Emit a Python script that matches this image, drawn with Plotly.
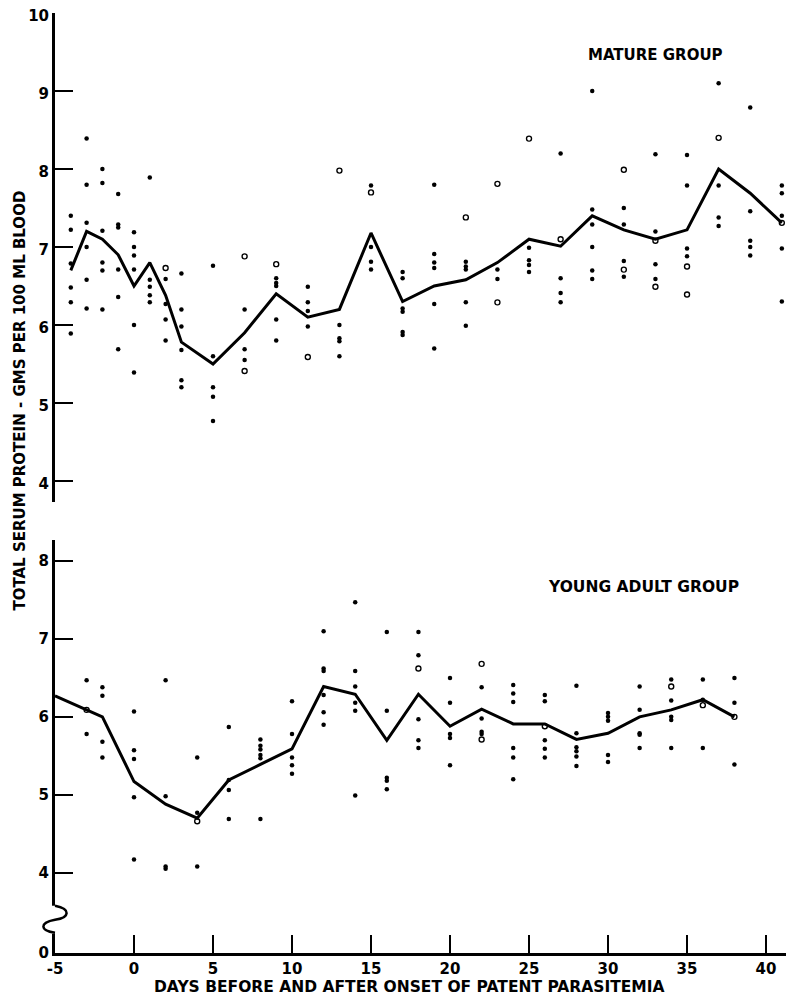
import plotly.graph_objects as go

# ---------------- data ----------------
# Mature group (top panel)
mature_days = [-4, -3, -2, -1, 0, 1, 2, 3, 5, 7, 9, 11, 13, 15, 17, 19, 21, 23, 25, 27, 29, 31, 33, 35, 37, 39, 41]
mature_mean = [6.70, 7.20, 7.10, 6.90, 6.50, 6.80, 6.38, 5.78, 5.50, 5.90, 6.40, 6.10, 6.20, 7.18, 6.30, 6.50,
               6.58, 6.80, 7.10, 7.01, 7.40, 7.22, 7.10, 7.22, 8.00, 7.69, 7.31]
mature_filled = [
    [7.40, 7.22, 6.79, 6.48, 6.29, 5.89],
    [8.39, 7.80, 7.31, 7.00, 6.58, 6.21],
    [8.00, 7.82, 7.21, 6.80, 6.70, 6.20],
    [7.68, 7.29, 7.25, 6.71, 6.36, 5.69],
    [7.19, 7.00, 6.89, 6.71, 6.00, 5.39],
    [7.89, 6.58, 6.49, 6.38, 6.29],
    [6.59, 6.27, 6.07, 5.80],
    [6.66, 6.20, 5.98, 5.68, 5.29, 5.20],
    [6.76, 5.60, 5.20, 5.08, 4.77],
    [6.20, 5.69, 5.55],
    [6.60, 6.54, 6.50, 6.07, 5.80],
    [6.49, 6.29, 6.18, 5.98],
    [6.00, 5.83, 5.79, 5.60],
    [7.79, 7.00, 6.81, 6.71],
    [6.68, 6.60, 6.21, 6.17, 5.91, 5.87],
    [7.80, 6.91, 6.80, 6.73, 6.27, 5.70],
    [6.81, 6.75, 6.71, 6.29, 5.99],
    [6.71, 6.59],
    [6.99, 6.83, 6.77, 6.68],
    [8.20, 6.60, 6.41, 6.29],
    [9.00, 7.48, 7.29, 7.00, 6.70, 6.59],
    [7.50, 7.29, 6.82, 6.62],
    [8.19, 7.20, 6.78, 6.59],
    [8.18, 7.79, 6.98, 6.88],
    [9.10, 7.79, 7.38, 7.27],
    [8.79, 7.46, 7.08, 7.00, 6.89],
    [7.79, 7.69, 7.40, 6.98, 6.30],
]
mature_open = [
    [], [], [], [], [], [], [6.73], [], [], [6.88, 5.41], [6.78], [5.59], [7.98], [7.70], [], [], [7.38],
    [7.81, 6.29], [8.39], [7.10], [], [7.99, 6.71], [7.08, 6.49], [6.75, 6.39], [8.40], [], [7.31],
]

# Young adult group (bottom panel)
young_days = [-5, -3, -2, 0, 2, 4, 6, 8, 10, 12, 14, 16, 18, 20, 22, 24, 26, 28, 30, 32, 34, 36, 38]
young_mean = [6.27, 6.09, 6.00, 5.17, 4.88, 4.70, 5.19, 5.39, 5.59, 6.39, 6.29, 5.70, 6.29, 5.88, 6.10,
              5.91, 5.91, 5.71, 5.79, 6.00, 6.09, 6.22, 6.00]
young_filled = [
    [],
    [6.47, 5.78],
    [6.38, 6.27, 5.68, 5.48],
    [6.07, 5.57, 5.46, 4.97, 4.17],
    [6.47, 4.98, 4.08, 4.05],
    [5.48, 4.77, 4.08],
    [5.87, 5.19, 5.06, 4.69],
    [5.71, 5.63, 5.58, 5.51, 5.47, 4.69],
    [6.20, 5.78, 5.48, 5.38, 5.27],
    [7.10, 6.62, 6.59, 6.28, 6.06, 5.90],
    [7.47, 6.59, 6.39, 6.18, 6.08, 4.99],
    [7.09, 6.08, 5.22, 5.18, 5.07],
    [7.09, 6.79, 5.97, 5.70, 5.60],
    [6.50, 6.18, 5.78, 5.73, 5.38],
    [6.38, 5.98, 5.81, 5.78],
    [6.41, 6.30, 6.19, 5.60, 5.48, 5.20],
    [6.28, 6.20, 5.70, 5.59, 5.48],
    [6.40, 5.79, 5.61, 5.56, 5.49, 5.37],
    [6.05, 6.00, 5.95, 5.51, 5.42],
    [6.39, 6.09, 5.79, 5.77, 5.60],
    [6.48, 6.21, 6.00, 5.96, 5.60],
    [6.48, 6.22, 5.60],
    [6.50, 6.18, 5.39],
]
young_open = [
    [], [6.09], [], [], [], [4.66], [], [], [], [], [], [], [6.62], [], [6.68, 5.71], [], [5.88], [], [], [],
    [6.39], [6.15], [6.00],
]

x_tick_vals = [-5, 0, 5, 10, 15, 20, 25, 30, 35, 40]
top_tick_vals = [4, 5, 6, 7, 8, 9, 10]
bottom_tick_vals = [2.97, 4, 5, 6, 7, 8]
bottom_tick_text = ["0", "4", "5", "6", "7", "8"]


def flatten(days, groups):
    xs, ys = [], []
    for d, vals in zip(days, groups):
        for v in vals:
            xs.append(d)
            ys.append(v)
    return xs, ys


def bold(labels):
    return ["<b>%s</b>" % s for s in labels]


FONT = "DejaVu Sans"
fig = go.Figure()

# top panel (yaxis2)
mx, my = flatten(mature_days, mature_filled)
fig.add_trace(go.Scatter(x=mx, y=my, mode="markers", xaxis="x", yaxis="y2",
                         marker=dict(color="black", size=4.5, symbol="circle"), showlegend=False))
mox, moy = flatten(mature_days, mature_open)
fig.add_trace(go.Scatter(x=mox, y=moy, mode="markers", xaxis="x", yaxis="y2",
                         marker=dict(color="black", size=5, symbol="circle-open", line=dict(width=1.4)),
                         showlegend=False))
fig.add_trace(go.Scatter(x=mature_days, y=mature_mean, mode="lines", xaxis="x", yaxis="y2",
                         line=dict(color="black", width=3), showlegend=False))

# bottom panel (yaxis)
yx, yy = flatten(young_days, young_filled)
fig.add_trace(go.Scatter(x=yx, y=yy, mode="markers", xaxis="x", yaxis="y",
                         marker=dict(color="black", size=4.5, symbol="circle"), showlegend=False))
yox, yoy = flatten(young_days, young_open)
fig.add_trace(go.Scatter(x=yox, y=yoy, mode="markers", xaxis="x", yaxis="y",
                         marker=dict(color="black", size=5, symbol="circle-open", line=dict(width=1.4)),
                         showlegend=False))
fig.add_trace(go.Scatter(x=young_days, y=young_mean, mode="lines", xaxis="x", yaxis="y",
                         line=dict(color="black", width=3), showlegend=False))

tickfont = dict(family=FONT, size=15, color="black")
common_axis = dict(ticks="inside", ticklen=18, tickwidth=2, tickcolor="black",
                   showline=True, linewidth=3, linecolor="black", automargin=False,
                   ticklabeloverflow="allow", showgrid=False, zeroline=False, tickfont=tickfont)

# the page body adds an 8px offset, so margins are reduced by 8px on left/top
fig.update_layout(
    template="none",
    width=794, height=996,
    margin=dict(l=47, r=8, t=5, b=51, autoexpand=False),
    paper_bgcolor="white", plot_bgcolor="white",
    xaxis=dict(range=[-5, 41.77], anchor="y", tickvals=x_tick_vals,
               ticktext=bold([str(v) for v in x_tick_vals]), **common_axis),
    yaxis=dict(domain=[0, 0.4394], range=[2.97, 8.27], anchor="x",
               tickvals=bottom_tick_vals, ticktext=bold(bottom_tick_text), **common_axis),
    yaxis2=dict(domain=[0.4798, 1], range=[3.73, 10.001], anchor="x", ticklabelshift=3,
                tickvals=top_tick_vals, ticktext=bold([str(v) for v in top_tick_vals]), **common_axis),
)

# axis break squiggle on the lower y axis
fig.add_shape(type="rect", xref="paper", yref="y", xsizemode="pixel", ysizemode="pixel",
              xanchor=0, yanchor=3.397, x0=-4, x1=4, y0=-14, y1=14,
              fillcolor="white", line=dict(width=0), layer="above")
fig.add_shape(type="path", xref="paper", yref="y", xsizemode="pixel", ysizemode="pixel",
              xanchor=0, yanchor=3.397,
              path="M 0,14 C 16,11 15,2 0,0 C -16,-3 -15,-11 0,-13",
              line=dict(color="black", width=2.5), layer="above")

ann_common = dict(xref="paper", yref="paper", showarrow=False, xanchor="center", yanchor="middle")
fig.add_annotation(text="<b>MATURE GROUP</b>", x=0.812, y=0.955,
                   font=dict(family=FONT, size=15, color="black"), **ann_common)
fig.add_annotation(text="<b>YOUNG ADULT GROUP</b>", x=0.796, y=0.389,
                   font=dict(family=FONT, size=15.5, color="black"), **ann_common)
fig.add_annotation(text="<b>TOTAL SERUM PROTEIN - GMS PER 100 ML BLOOD</b>", x=-0.047, y=0.588,
                   textangle=-90, font=dict(family=FONT, size=15, color="black"), **ann_common)
fig.add_annotation(text="<b>DAYS BEFORE AND AFTER ONSET OF PATENT PARASITEMIA</b>", x=0.48, y=-0.036,
                   font=dict(family=FONT, size=15.5, color="black"), **ann_common)

fig.write_html("out.html")
